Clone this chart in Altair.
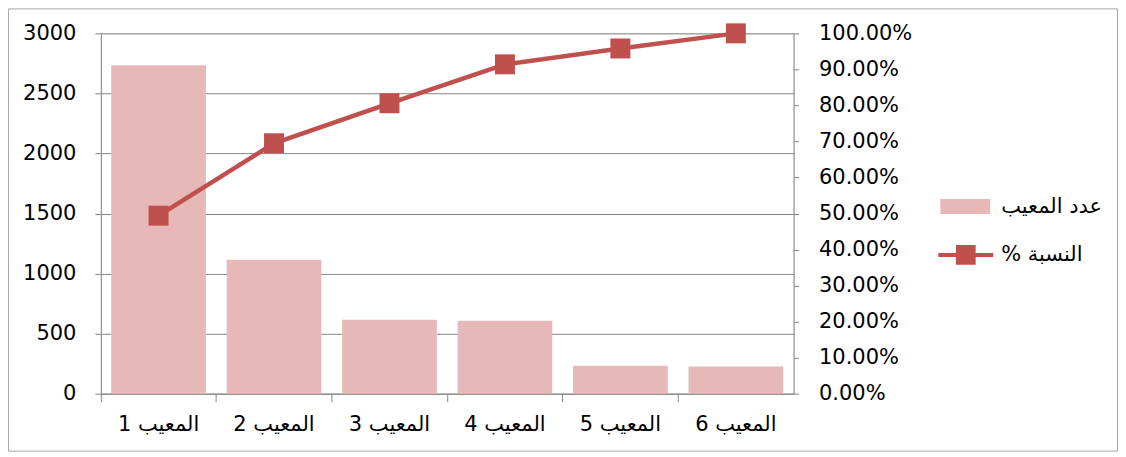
import altair as alt
import pandas as pd

categories = ["المعيب 1", "المعيب 2", "المعيب 3", "المعيب 4", "المعيب 5", "المعيب 6"]
counts = [2735, 1115, 615, 607, 233, 226]
cum_pct = [0.494, 0.695, 0.806, 0.914, 0.958, 1.0]
bar_series = "عدد المعيب"
line_series = "النسبة %\u200f"
y_ticks = [0, 500, 1000, 1500, 2000, 2500, 3000]
pct_ticks = [0.0, 0.1, 0.2, 0.3, 0.4, 0.5, 0.6, 0.7, 0.8, 0.9, 1.0]

FONT = "DejaVu Sans"
GRAY = "#868686"
BAR = "#e6b9b8"
RED = "#c0504d"
FS = 21

df = pd.DataFrame({"cat": categories, "count": counts, "pct": cum_pct,
                   "bs": [bar_series] * 6, "ls": [line_series] * 6})

W, H = 694, 361

xenc = alt.X("cat:N", sort=categories,
             scale=alt.Scale(paddingInner=0, paddingOuter=0),
             axis=alt.Axis(title=None, labelAngle=0, bandPosition=0, tickSize=8,
                           labelPadding=12, domainColor=GRAY, tickColor=GRAY,
                           labelFontSize=FS, labelFont=FONT, labelColor="black",
                           grid=False))

right_axis = alt.Axis(title=None, orient="right", values=pct_ticks, format=".2%",
                      grid=False, domainColor=GRAY, tickColor=GRAY, tickSize=5,
                      labelPadding=20, labelFontSize=FS, labelFont=FONT,
                      labelColor="black")

bars = alt.Chart(df).mark_bar(width=alt.RelativeBandSize(0.82)).encode(
    x=xenc,
    y=alt.Y("count:Q", scale=alt.Scale(domain=[0, 3000], nice=False),
            axis=alt.Axis(title=None, values=y_ticks, format="d", grid=True, gridColor=GRAY,
                          domainColor=GRAY, tickColor=GRAY, tickSize=6,
                          labelPadding=19, labelFontSize=FS, labelFont=FONT,
                          labelColor="black")),
    fill=alt.Fill("bs:N", scale=alt.Scale(domain=[bar_series], range=[BAR]),
                  legend=alt.Legend(title=None, orient="none", legendX=841, legendY=148.5,
                                    symbolType="M-1,-0.3H1V0.3H-1Z", symbolSize=2500,
                                    symbolStrokeWidth=0, labelOffset=11, padding=0,
                                    labelFont=FONT, labelFontSize=FS, labelColor="black")),
)

line = alt.Chart(df).mark_line(strokeWidth=4.5).encode(
    x=xenc,
    y=alt.Y("pct:Q", scale=alt.Scale(domain=[0, 1], nice=False), axis=right_axis),
    stroke=alt.Stroke("ls:N", scale=alt.Scale(domain=[line_series], range=[RED]),
                      legend=alt.Legend(title=None, orient="none", legendX=839, legendY=194.5,
                                        symbolType="M-1,-0.075H1V0.075H-1Z M-0.36,-0.36H0.36V0.36H-0.36Z",
                                        symbolSize=3025, symbolFillColor=RED,
                                        symbolStrokeWidth=0, labelOffset=8, padding=0,
                                        labelFont=FONT, labelFontSize=FS, labelColor="black")),
)

points = alt.Chart(df).mark_square(size=400, color=RED, opacity=1).encode(
    x=xenc,
    y=alt.Y("pct:Q", scale=alt.Scale(domain=[0, 1], nice=False), axis=right_axis),
)

border = alt.Chart(pd.DataFrame({"a": [0]})).mark_rect(
    fill=None, stroke="#a6a6a6", strokeWidth=1, clip=False).encode(
    x=alt.value(-92.5), x2=alt.value(1018.5), y=alt.value(-24.5), y2=alt.value(418.5))

right = alt.layer(line, points)

chart = alt.layer(border, bars, right).resolve_scale(y="independent").properties(
    width=W, height=H, padding=0
).configure_view(stroke=None).configure(background="white")

chart.save("out.html", embed_options={"renderer": "svg", "actions": False})
